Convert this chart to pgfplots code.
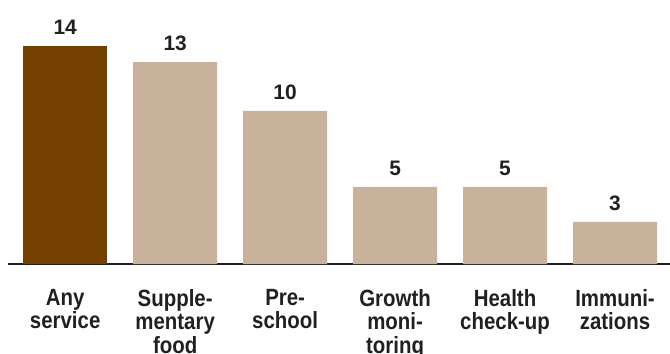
\documentclass[border=0pt]{standalone}
\usepackage{pgfplots}
\pgfplotsset{compat=1.18}
\usepackage{fontspec}
\setmainfont{Liberation Sans}
\definecolor{darkbrown}{RGB}{115,64,0}
\definecolor{tan}{RGB}{201,178,155}
\definecolor{txt}{RGB}{35,31,32}
\begin{document}
\begin{tikzpicture}
\begin{axis}[
  at={(0,0)}, anchor=south west,
  scale only axis,
  width=662bp, height=218bp,
  xmin=-0.52, xmax=5.5,
  ymin=0, ymax=14,
  clip=false,
  axis x line=bottom,
  axis y line=none,
  axis line style={draw=txt, line width=1.8bp, -},
  xtick={0,1,2,3,4,5},
  xticklabels={Any\\service, Supple-\\mentary\\food, Pre-\\school, Growth\\moni-\\toring, Health\\check-up, Immuni-\\zations},
  xticklabel style={align=center, anchor=north, inner sep=0pt, yshift=-25bp, yscale=1.15, transform shape, font=\fontsize{20.5}{20.5}\selectfont\bfseries, text=txt},
  major tick length=0pt,
  ybar, bar width=84bp,
  point meta=explicit symbolic,
  nodes near coords,
  every node near coord/.append style={font=\fontsize{21}{24}\selectfont\bfseries, text=txt, anchor=south, inner sep=0pt, yshift=11bp},
]
\addplot[fill=darkbrown, draw=none, bar shift=0pt] coordinates {(0,14)[14]};
\addplot[fill=tan, draw=none, bar shift=0pt] coordinates {(1,12.97)[13] (2,9.83)[10] (3,4.95)[5] (4,4.95)[5] (5,2.7)[3]};
\end{axis}
\pgfresetboundingbox
\path (-8bp,-90bp) rectangle (662bp,264bp);
\end{tikzpicture}
\end{document}
